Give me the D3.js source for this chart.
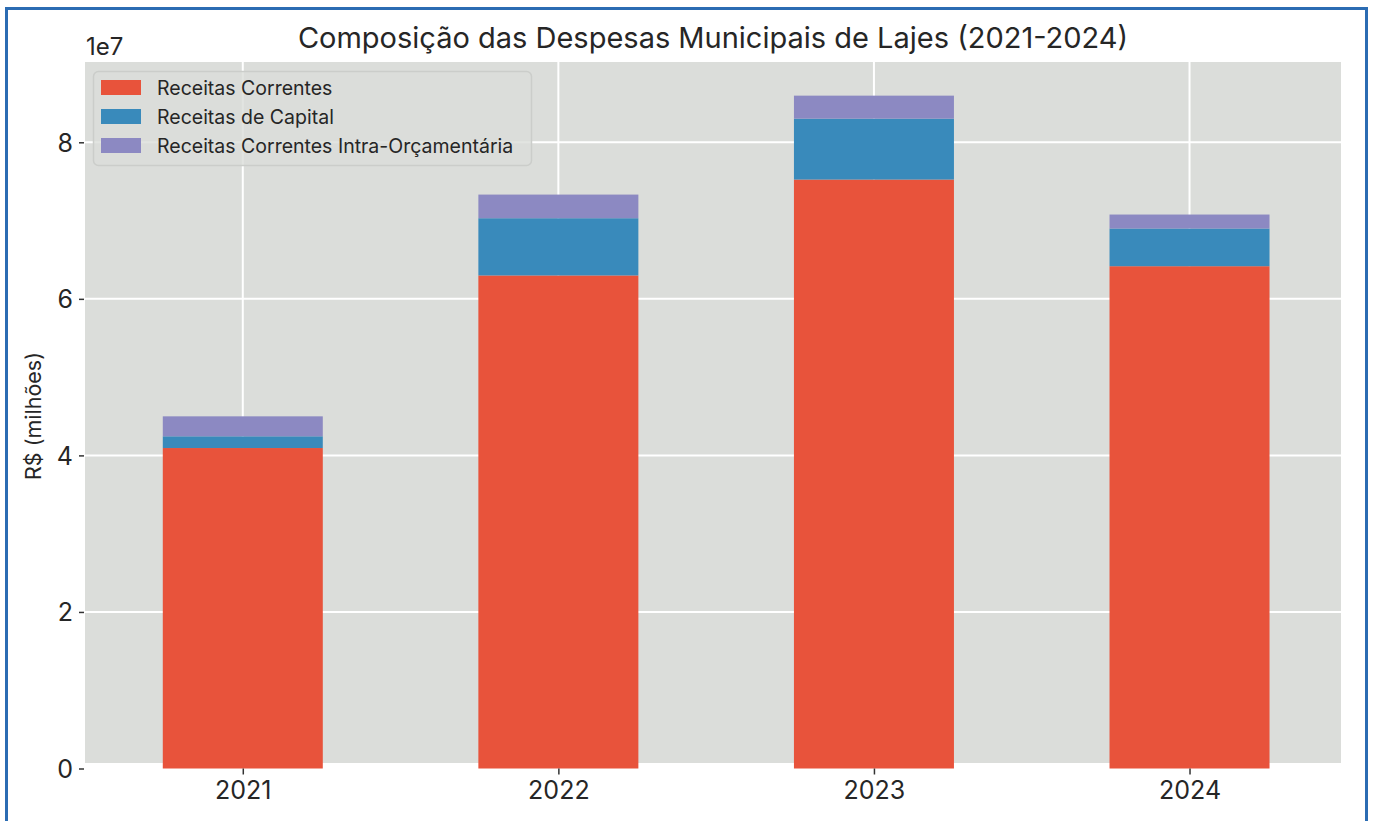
<!DOCTYPE html>
<html><head><meta charset="utf-8">
<script src="https://cdn.jsdelivr.net/npm/d3@7"></script>
<style>
html,body{margin:0;padding:0;background:#fff;}
svg{display:block;}
text{font-family:Inter,"Liberation Sans",Arial,sans-serif;fill:#262626;}
</style></head>
<body>
<svg id="chart" width="1375" height="821"></svg>
<script>
const years = ["2021","2022","2023","2024"];
const seriesNames = ["Receitas Correntes","Receitas de Capital","Receitas Correntes Intra-Orçamentária"];
const receitasCorrentes = [40.94e6, 62.99e6, 75.24e6, 64.17e6];
const receitasCapital   = [1.50e6, 7.31e6, 7.78e6, 4.82e6];
const receitasIntra     = [2.55e6, 3.02e6, 2.94e6, 1.78e6];
const yTicks = [0, 2e7, 4e7, 6e7, 8e7];
const colors = ["#E8533B","#398ABB","#8C89C2"];

const svg = d3.select("#chart");
const plot = {left:85, right:1341, top:62, bottom:763};
const zeroY = 768.5;

const rows = years.map((y,i)=>({year:y, i, c:receitasCorrentes[i], k:receitasCapital[i], t:receitasIntra[i]}));
const stack = d3.stack().keys(["c","k","t"])(rows);
const maxTotal = d3.max(stack[2], d=>d[1]);

const x = d3.scaleLinear().domain([-0.5, 3.48]).range([plot.left, plot.right]);
const y = d3.scaleLinear().domain([0, maxTotal*1.05]).range([zeroY, plot.top]);
const barW = 0.507;

// border frame
svg.append("rect").attr("x",6.5).attr("y",8.5).attr("width",1360).attr("height",830)
  .attr("fill","none").attr("stroke","#2B6CB3").attr("stroke-width",3);

// background
svg.append("rect").attr("x",plot.left).attr("y",plot.top)
  .attr("width",plot.right-plot.left).attr("height",plot.bottom-plot.top).attr("fill","#DBDDDA");

// grid
const g = svg.append("g");
g.selectAll(".hg").data(yTicks.filter(v=>v>0)).join("line")
  .attr("x1",plot.left).attr("x2",plot.right)
  .attr("y1",d=>y(d)).attr("y2",d=>y(d)).attr("stroke","#fff").attr("stroke-width",2);
g.selectAll(".vg").data(rows).join("line")
  .attr("x1",d=>x(d.i)).attr("x2",d=>x(d.i))
  .attr("y1",plot.top).attr("y2",plot.bottom).attr("stroke","#fff").attr("stroke-width",2);

// bars
stack.forEach((layer,li)=>{
  svg.append("g").selectAll("rect").data(layer).join("rect")
    .attr("x",(d,i)=>x(i-barW/2)).attr("width",x(barW)-x(0))
    .attr("y",d=>y(d[1])).attr("height",d=>y(d[0])-y(d[1]))
    .attr("fill",colors[li]);
});

// y axis
const yAxis = d3.axisLeft(y).tickValues(yTicks).tickFormat(d=>d/1e7).tickSize(5).tickPadding(6);
const ya = svg.append("g").attr("transform",`translate(${plot.left-1},0)`).call(yAxis);
ya.select(".domain").remove();
ya.selectAll(".tick line").attr("stroke","#333").attr("stroke-width",1.5);
ya.selectAll(".tick text").style("font-size","25px").attr("fill","#262626").attr("dy","0.36em");

// x axis
const xAxis = d3.axisBottom(x).tickValues([0,1,2,3]).tickFormat(i=>years[i]).tickSize(6).tickPadding(7);
const xa = svg.append("g").attr("transform",`translate(0,${zeroY})`).call(xAxis);
xa.select(".domain").remove();
xa.selectAll(".tick line").attr("stroke","#333").attr("stroke-width",1.5);
xa.selectAll(".tick text").style("font-size","25px").attr("fill","#262626");

// offset text
svg.append("text").attr("x",plot.left+1).attr("y",55).style("font-size","24px").text("1e7");

// title
svg.append("text").attr("x",(plot.left+plot.right)/2).attr("y",48).attr("text-anchor","middle")
  .style("font-size","29px").text("Composição das Despesas Municipais de Lajes (2021-2024)");

// y label
svg.append("text").attr("transform",`translate(41,416) rotate(-90)`).attr("text-anchor","middle")
  .style("font-size","21.5px").text("R$ (milhões)");

// legend
const lg = svg.append("g");
lg.append("rect").attr("x",93.5).attr("y",71.5).attr("width",438).attr("height",94).attr("rx",5)
  .attr("fill","#DBDDDA").attr("fill-opacity",0.8).attr("stroke","#CBCDCA").attr("stroke-width",1.5);
seriesNames.forEach((n,i)=>{
  lg.append("rect").attr("x",101).attr("y",80+i*29).attr("width",40).attr("height",15).attr("fill",colors[i]);
  lg.append("text").attr("x",157).attr("y",94.5+i*29).style("font-size","19.5px").text(n);
});
</script>
</body></html>
